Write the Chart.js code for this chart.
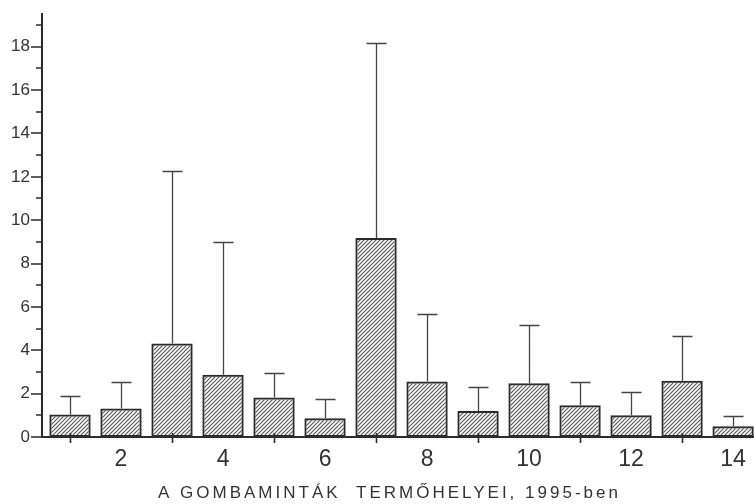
<!DOCTYPE html>
<html>
<head>
<meta charset="utf-8">
<script src="https://cdn.jsdelivr.net/npm/chart.js@4/dist/chart.umd.min.js"></script>
<style>
  html, body { margin: 0; padding: 0; background: #fff; }
  canvas { display: block; }
</style>
</head>
<body>
<canvas id="c" width="754" height="504"></canvas>
<script>
// Sampling sites (1..14), mean counts and upper error limits
const sites = [1, 2, 3, 4, 5, 6, 7, 8, 9, 10, 11, 12, 13, 14];
const means = [1.04, 1.32, 4.31, 2.87, 1.82, 0.87, 9.18, 2.56, 1.2, 2.48, 1.46, 1.0, 2.59, 0.5];
const upperLimits = [1.9, 2.53, 12.27, 9.0, 2.94, 1.76, 18.17, 5.66, 2.3, 5.15, 2.53, 2.07, 4.66, 0.95];
const xTickValues = [1, 2, 3, 4, 5, 6, 7, 8, 9, 10, 11, 12, 13, 14];
const yTickValues = [0, 1, 2, 3, 4, 5, 6, 7, 8, 9, 10, 11, 12, 13, 14, 15, 16, 17, 18, 19];
const xTitle = 'A GOMBAMINTÁK  TERMŐHELYEI, 1995-ben';

const INK = '#2b2b2b';
const TEXT = '#333';
const FONT = '"Liberation Sans", Arial, sans-serif';

// Diagonal hatch fill for the bars
function hatchPattern() {
  const s = 4;
  const p = document.createElement('canvas');
  p.width = s; p.height = s;
  const g = p.getContext('2d');
  g.strokeStyle = '#555';
  g.lineWidth = 1.1;
  g.beginPath();
  g.moveTo(0, s); g.lineTo(s, 0);
  g.moveTo(-1, 1); g.lineTo(1, -1);
  g.moveTo(s - 1, s + 1); g.lineTo(s + 1, s - 1);
  g.stroke();
  return document.getElementById('c').getContext('2d').createPattern(p, 'repeat');
}

// Tick marks: x marks at odd sites crossing the axis, y major/minor marks
const tickMarks = {
  id: 'tickMarks',
  afterDraw(chart) {
    const { ctx, chartArea, scales } = chart;
    ctx.save();
    ctx.strokeStyle = INK;
    ctx.lineWidth = 1.6;
    ctx.beginPath();
    xTickValues.filter(v => v % 2 === 1).forEach(v => {
      const px = Math.round(scales.x.getPixelForValue(v)) + 0.5;
      ctx.moveTo(px, chartArea.bottom - 4);
      ctx.lineTo(px, chartArea.bottom + 6);
    });
    yTickValues.forEach(v => {
      const py = Math.round(scales.y.getPixelForValue(v));
      const len = v % 2 === 0 ? 11 : 6;
      ctx.moveTo(chartArea.left - len, py);
      ctx.lineTo(chartArea.left, py);
    });
    ctx.stroke();
    ctx.restore();
  }
};

// Upper error whiskers with caps
const errorBars = {
  id: 'errorBars',
  afterDatasetsDraw(chart) {
    const { ctx, scales } = chart;
    ctx.save();
    ctx.strokeStyle = '#444';
    ctx.lineWidth = 1.3;
    ctx.beginPath();
    sites.forEach((s, i) => {
      const px = Math.round(scales.x.getPixelForValue(s)) + 0.5;
      const yTop = scales.y.getPixelForValue(means[i]);
      const yErr = Math.round(scales.y.getPixelForValue(upperLimits[i])) + 0.5;
      ctx.moveTo(px, yTop);
      ctx.lineTo(px, yErr);
      ctx.moveTo(px - 10, yErr);
      ctx.lineTo(px + 10, yErr);
    });
    ctx.stroke();
    ctx.restore();
  }
};

// Spaced-out axis caption under the x labels
const axisCaption = {
  id: 'axisCaption',
  afterDraw(chart) {
    const { ctx } = chart;
    ctx.save();
    ctx.font = '17px ' + FONT;
    ctx.letterSpacing = '3px';
    ctx.fillStyle = TEXT;
    ctx.textAlign = 'left';
    ctx.textBaseline = 'alphabetic';
    ctx.fillText(xTitle, 158, 498);
    ctx.restore();
  }
};

new Chart(document.getElementById('c'), {
  type: 'bar',
  data: {
    datasets: [{
      data: sites.map((s, i) => ({ x: s, y: means[i] })),
      backgroundColor: hatchPattern(),
      borderColor: INK,
      borderWidth: 2,
      borderSkipped: false,
      barPercentage: 0.81,
      categoryPercentage: 1
    }]
  },
  options: {
    responsive: false,
    animation: false,
    devicePixelRatio: 1,
    layout: { padding: 0 },
    plugins: { legend: { display: false }, tooltip: { enabled: false } },
    scales: {
      x: {
        type: 'linear',
        min: 0.451,
        max: 14.41,
        offset: false,
        grid: { display: false, offset: false },
        border: { display: true, color: INK, width: 2 },
        afterBuildTicks: s => { s.ticks = xTickValues.map(v => ({ value: v })); },
        afterFit: s => { s.height = 67; },
        ticks: {
          autoSkip: false,
          maxRotation: 0,
          padding: 1,
          color: TEXT,
          font: { family: FONT, size: 23 },
          callback: v => (v % 2 === 0 ? String(v) : '')
        }
      },
      y: {
        min: 0,
        max: 19.5,
        grid: { display: false },
        border: { display: true, color: INK, width: 2 },
        afterBuildTicks: s => { s.ticks = yTickValues.map(v => ({ value: v })); },
        afterFit: s => { s.width = 42; },
        ticks: {
          autoSkip: false,
          padding: 4,
          color: TEXT,
          font: { family: FONT, size: 17 },
          callback: v => (v % 2 === 0 ? String(v) : '')
        }
      }
    }
  },
  plugins: [errorBars, tickMarks, axisCaption]
});
</script>
</body>
</html>
